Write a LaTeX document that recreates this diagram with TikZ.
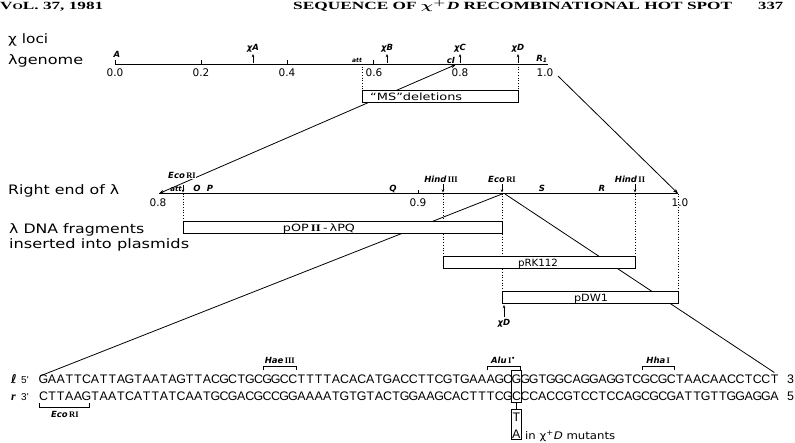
\documentclass[tikz,border=0pt]{standalone}
\usepackage{fontspec}
\usepackage{graphicx}
\setmainfont{DejaVu Sans}
\newfontfamily\seqf{Liberation Sans}
\newfontfamily\serf{Liberation Serif}
\usetikzlibrary{arrows.meta}
\newcommand\fw[2]{\resizebox{#1}{\height}{#2}}
\newcommand\seqfont{\seqf\fontsize{12.4}{14}\selectfont}
\newcommand\mono[1]{\monoi#1\relax}
\def\monoi#1{\ifx#1\relax\else\makebox[8.6pt][c]{#1}\expandafter\monoi\fi}
\newcommand\rn[1]{{\serf\bfseries\upshape #1}}
\begin{document}
\begin{tikzpicture}[x=1pt,y=-1pt,
  gline/.style={line width=0.9pt},
  conn/.style={line width=0.8pt},
  dotl/.style={dotted, line width=0.7pt},
  fbox/.style={draw, line width=0.8pt, fill=white, inner sep=0pt, anchor=north west},
  tickl/.style={line width=0.7pt},
  loc/.style={font=\fontsize{8.5}{10}\selectfont\bfseries\itshape, inner sep=0pt, anchor=base},
  num/.style={font=\fontsize{10.5}{12}\selectfont, inner sep=0pt, anchor=base},
  big/.style={font=\fontsize{13}{15}\selectfont, inner sep=0pt, anchor=base west},
  btxt/.style={font=\fontsize{10}{12}\selectfont, inner sep=0pt, anchor=base},
  sarr/.style={-{Stealth[length=3.2pt,width=2.6pt]}, line width=0.6pt},
  sq/.style={font=\seqfont, inner sep=0pt, anchor=base west},
  brk/.style={line width=0.6pt},
  hdr/.style={font=\serf\bfseries\fontsize{11}{12}\selectfont, inner sep=0pt, anchor=base west},
]
\useasboundingbox (0,0) rectangle (795,442);
\def\sx{39}\def\cw{8.6}
\pgfmathsetmacro\haL{\sx+26*\cw}
\pgfmathsetmacro\haR{\sx+30*\cw}
\pgfmathsetmacro\alL{\sx+52*\cw}
\pgfmathsetmacro\mL{\sx+55*\cw}
\pgfmathsetmacro\mR{\sx+56*\cw}
\pgfmathsetmacro\hhL{\sx+70*\cw}
\pgfmathsetmacro\hhR{\sx+74*\cw}
\pgfmathsetmacro\tC{\sx+85.5*\cw}
\pgfmathsetmacro\ecR{\sx+6*\cw}
\pgfmathsetmacro\mC{(\mL+\mR)/2}
\pgfmathsetmacro\mW{\mR-\mL+2}

% header
\node[hdr] (hvol) at (0,9) {\fw{103pt}{V{\fontsize{8.5}{10}\selectfont O}L. 37, 1981}};
\node[hdr] (htitle) at (293,9) {\fw{439pt}{SEQUENCE OF {\boldmath$\chi^{+}$}\kern0.5pt\textit{D} RECOMBINATIONAL HOT SPOT}};
\node[hdr] (hpage) at (758,9) {\fw{25pt}{337}};

% top labels
\node[big] (chil) at (8,43) {\fw{40pt}{χ loci}};
\node[big] (lgen) at (8,64) {\fw{75pt}{λgenome}};

% genome axis
\coordinate (g0) at (115,64);
\coordinate (g1) at (548,64);
\draw[gline] (g0) -- (g1);
\foreach \x in {115,201,287,373} \draw[tickl] (\x,64) -- (\x,60);
\node[num] (t0) at (115,76) {0.0};
\node[num] (t2) at (201,76) {0.2};
\node[num] (t4) at (287,76) {0.4};
\node[num] (t6) at (374,76) {0.6};
\node[num] (t8) at (460,76) {0.8};
\node[num] (t10) at (545,76) {1.0};
\node[loc] (locA) at (117,57) {A};
\foreach \x/\n/\lt in {253/xa/A, 387/xb/B, 460/xc/C, 518/xd/D} {
  \node[loc] (l\n) at (\x,50) {χ\lt};
  \draw[sarr] (\x,63) -- (\x,54);
}
\node[loc, font=\fontsize{6}{7}\selectfont\bfseries\itshape] (latt) at (357,62) {att};
\node[loc] (lci) at (451,63) {cI};
\node[loc] (lr1) at (542,61) {R\textsubscript{1}};

% MS deletions
\draw[dotl] (362,64) -- (362,90);
\draw[dotl] (518,64) -- (518,90);
\coordinate (c8top) at (456,64.5);
\coordinate (c8bot) at (159,193.5);
\draw[conn, {Stealth[length=5pt,width=3.6pt]}-{Stealth[length=5pt,width=3.6pt]}] (c8top) -- (c8bot);
\node[fbox, minimum width=156pt, minimum height=12pt] (ms) at (362,90) {};
\node[btxt, anchor=base west] (mst) at (370,100) {\fw{92pt}{“MS”deletions}};
\coordinate (c10top) at (558,76);
\coordinate (c10bot) at (678,193.5);
\draw[conn, -{Stealth[length=5pt,width=3.6pt]}] (c10top) -- (c10bot);

% right end of lambda
\node[big] (rel) at (8,194) {\fw{111pt}{Right end of λ}};
\coordinate (r0) at (159,193.5);
\coordinate (r1) at (678,193.5);
\draw[gline] (r0) -- (r1);
\draw[tickl] (418,193.5) -- (418,190);
\node[num] (u8) at (158,206) {0.8};
\node[num] (u9) at (418,206) {0.9};
\node[num] (u10) at (680,206) {1.0};
\node[loc, font=\fontsize{7}{8}\selectfont\bfseries\itshape] (latt2) at (176,191) {att};
\node[loc] (lO) at (197,191) {O};
\node[loc] (lP) at (210,191) {P};
\node[loc] (lQ) at (393,191) {Q};
\node[loc] (lS) at (542,191) {S};
\node[loc] (lR) at (602,191) {R};
\node[loc, fill=white, inner sep=0.6pt] (eco0) at (182,178) {Eco\,\rn{RI}};
\node[loc] (hind3) at (441,182) {Hind\,\rn{III}};
\node[loc] (eco1) at (502,182) {Eco\,\rn{RI}};
\node[loc] (hind2) at (630,182) {Hind\,\rn{II}};
\draw[sarr] (183,185) -- (183,192.5);
\draw[sarr] (443,184) -- (443,192.5);
\draw[sarr] (502,184) -- (502,192.5);
\draw[sarr] (635,184) -- (635,192.5);

% left names
\node[big] (frag1) at (9,233) {\fw{135pt}{λ DNA fragments}};
\node[big] (frag2) at (9,248) {\fw{180pt}{inserted into plasmids}};

% plasmid fragments and connectors
\draw[dotl] (183,193.5) -- (183,221);
\draw[dotl] (443,193.5) -- (443,256);
\draw[dotl] (502,193.5) -- (502,290.5);
\draw[dotl] (635,193.5) -- (635,256);
\draw[dotl] (678,193.5) -- (678,290.5);
\coordinate (ecoA) at (502,194);
\coordinate (firstG) at (40,376);
\coordinate (ecoB) at (505,194);
\coordinate (lastT) at (\tC,372.5);
\draw[conn] (ecoA) -- (firstG);
\draw[conn] (ecoB) -- (lastT);
\node[fbox, minimum width=319pt, minimum height=12pt] (pop) at (183,221) {};
\node[btxt] (popt) at (319,231) {\fw{72pt}{pOP\,\rn{II}\,-\,λPQ}};
\node[fbox, minimum width=192pt, minimum height=12pt] (prk) at (443,256) {};
\node[btxt] (prkt) at (538,266) {\fw{40pt}{pRK112}};
\node[fbox, minimum width=176pt, minimum height=12.5pt] (pdw) at (502,290.5) {};
\node[btxt] (pdwt) at (591,301) {\fw{34pt}{pDW1}};
\draw[sarr] (504,317) -- (504,305);
\node[loc] (lxd2) at (504,325) {χD};

% sequence
\node[font=\fontsize{12}{14}\selectfont\bfseries\itshape, inner sep=0pt, anchor=base west] (lell) at (11,383) {ℓ};
\node[font=\serf\bfseries\itshape\fontsize{12}{14}\selectfont, inner sep=0pt, anchor=base west] (lrr) at (11,400) {r};
\node[sq, font=\seqf\fontsize{10}{12}\selectfont] (p5a) at (21,383) {5'};
\node[sq, font=\seqf\fontsize{10}{12}\selectfont] (p3a) at (21,400) {3'};
\node[sq] (s1) at (\sx,383) {\mono{GAATTCATTAGTAATAGTTACGCTGCGGCCTTTTACACATGACCTTCGTGAAAGCGGGTGGCAGGAGGTCGCGCTAACAACCTCCT}};
\node[sq] (s2) at (\sx,400) {\mono{CTTAAGTAATCATTATCAATGCGACGCCGGAAAATGTGTACTGGAAGCACTTTCGCCCACCGTCCTCCAGCGCGATTGTTGGAGGA}};
\node[sq] (p3b) at (787,383) {3};
\node[sq] (p5b) at (787,400) {5};

% restriction brackets
\draw[brk] (\haL+1,370) -- (\haL+1,366) -- (\haR-1,366) -- (\haR-1,370);
\node[loc] (hae) at ({(\haL+\haR)/2},363) {Hae\,\rn{III}};
\draw[brk] (\alL+1,370) -- (\alL+1,366) -- (\mR,366) -- (\mR,370);
\node[loc] (alu) at ({(\alL+\mR)/2},363) {Alu\,\rn{I}\textsuperscript{\upshape •}};
\draw[brk] (\hhL+1,370) -- (\hhL+1,366) -- (\hhR-1,366) -- (\hhR-1,370);
\node[loc] (hha) at ({(\hhL+\hhR)/2},363) {Hha\,\rn{I}};
\draw[brk] (\sx,403) -- (\sx,407) -- (\ecR-1,407) -- (\ecR-1,403);
\node[loc] (ecob) at ({(\sx+\ecR)/2},417) {Eco\,\rn{RI}};

% mutation
\node[draw, line width=0.6pt, inner sep=0pt, minimum width=\mW pt, minimum height=32pt, anchor=north] (mbox) at (\mC,370) {};
\node[draw, line width=0.6pt, inner sep=0pt, minimum width=\mW pt, minimum height=30pt, anchor=north] (mut) at (\mC,409) {};
\draw[line width=0.6pt] (mbox.south) -- (mut.north);
\node[sq, anchor=base] (mutT) at (\mC,421) {T};
\node[sq, anchor=base] (mutA) at (\mC,438) {A};
\node[btxt, anchor=base west, font=\fontsize{10.5}{12}\selectfont] (mutt) at (525,439) {\fw{90pt}{in χ\textsuperscript{+}\textit{D} mutants}};
\end{tikzpicture}
\end{document}
